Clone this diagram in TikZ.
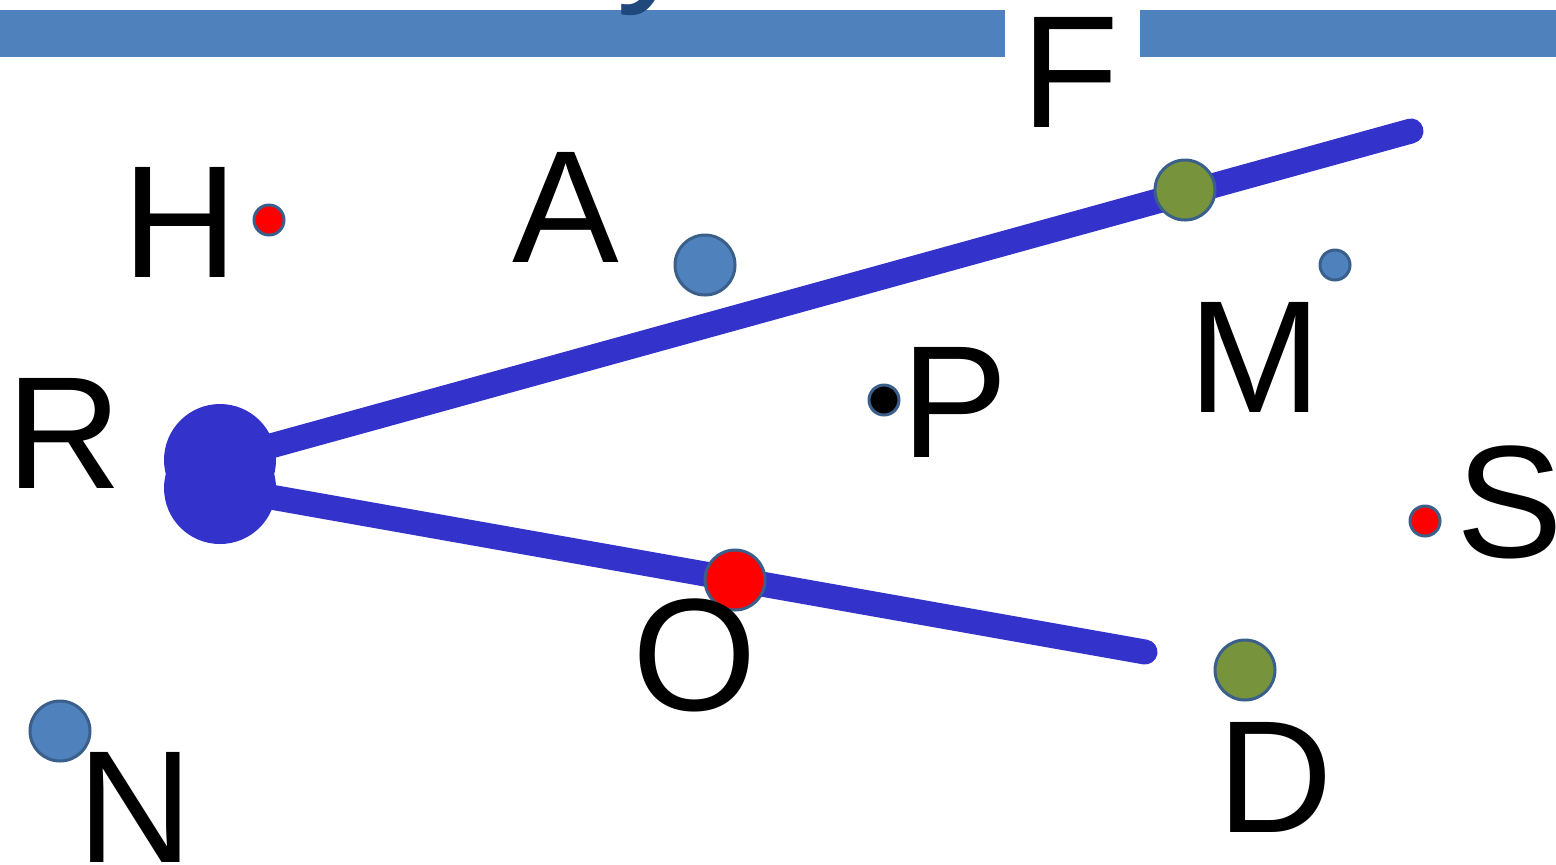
\documentclass[tikz,border=0pt]{standalone}
\usepackage{fontspec}
\setmainfont{Liberation Sans}
\definecolor{barblue}{HTML}{4F81BD}
\definecolor{rayblue}{HTML}{3333CC}
\definecolor{rimblue}{HTML}{3A5F8B}
\definecolor{olive}{HTML}{77933C}
\definecolor{darkblue}{HTML}{1F497D}
\tikzset{
  bigfont/.style={font=\fontsize{80}{80}\selectfont, inner sep=0pt, anchor=base},
  lbl/.style={bigfont, text=black},
  ray/.style={draw=rayblue, line width=12.5pt, line cap=round},
  dotbig/.style={circle, draw=rimblue, line width=1.5pt, minimum size=30pt, inner sep=0pt},
  dotsmall/.style={circle, draw=rimblue, line width=1.5pt, minimum size=15pt, inner sep=0pt},
  bar/.style={fill=barblue, draw=none},
}
\begin{document}
\begin{tikzpicture}[x=0.5pt, y=-0.5pt]
\useasboundingbox (0,0) rectangle (1556,864);
% top bars
\fill[bar] (0,10) rectangle (1005,57);
\fill[bar] (1140,10) rectangle (1556,57);
\node[bigfont, text=darkblue] (ylab) at (656,-18) {y};
% rays
\coordinate (R1) at (220,460);
\coordinate (R2) at (220,488);
\coordinate (Fend) at (1411,131);
\coordinate (Dend) at (1145,652);
\draw[ray] (R1) -- (Fend);
\draw[ray] (R2) -- (Dend);
\fill[rayblue] (R1) circle (28pt);
\fill[rayblue] (R2) circle (28pt);
% dots
\node[dotsmall, fill=red] (h) at (269,220) {};
\node[dotbig, fill=barblue] (a) at (705,265) {};
\node[dotbig, fill=olive] (m) at (1185,190) {};
\node[dotsmall, fill=barblue] (s2) at (1335,265) {};
\node[dotsmall, fill=black] (p) at (884,400) {};
\node[dotsmall, fill=red] (s) at (1425,521) {};
\node[dotbig, fill=red] (o) at (735,580) {};
\node[dotbig, fill=olive] (d) at (1245,670) {};
\node[dotbig, fill=barblue] (n) at (60,731) {};
% labels
\node[lbl] (Hl) at (180,277) {H};
\node[lbl] (Al) at (566,262) {A};
\node[lbl] (Ml) at (1255,412) {M};
\node[lbl] (Pl) at (955,457) {P};
\node[lbl] (Sl) at (1510,557) {S};
\node[lbl] (Ol) at (695,710) {O};
\node[lbl] (Dl) at (1275,832) {D};
\node[lbl] (Nl) at (135,862) {N};
\node[lbl] (Rl) at (64,488) {R};
\node[lbl] (Fl) at (1070,127) {F};
\end{tikzpicture}
\end{document}
